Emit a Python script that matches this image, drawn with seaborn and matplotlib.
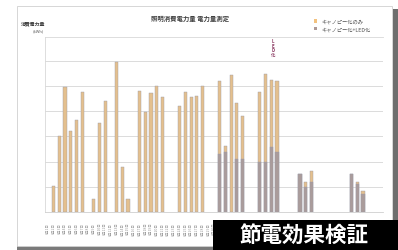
import matplotlib
matplotlib.use("Agg")
import matplotlib.pyplot as plt
import matplotlib.patches as mpatches
import seaborn as sns
import pandas as pd

# ---- data ----
days = ["6月1日", "6月2日", "6月3日", "6月4日", "6月5日", "6月6日", "6月7日", "6月8日",
        "6月9日", "6月10日", "6月11日", "6月12日", "6月13日", "6月14日", "6月15日",
        "6月16日", "6月17日", "6月18日", "6月19日", "6月20日", "6月21日", "6月22日",
        "6月23日", "6月24日", "6月25日", "6月26日", "6月27日", "6月28日", "6月29日",
        "6月30日", "7月1日", "7月2日", "7月3日", "7月4日", "7月5日", "7月6日", "7月7日",
        "7月8日", "7月9日", "7月10日", "7月11日", "7月12日", "7月13日", "7月14日",
        "7月15日", "7月16日", "7月17日", "7月18日", "7月19日", "7月20日", "7月21日",
        "7月22日", "7月23日", "7月24日", "7月25日", "7月26日", "7月27日", "7月28日",
        "7月29日"]
canopy_only = [0, 104, 302, 497, 323, 365, 476, 0, 52, 352, 442, 0, 597, 178, 52, 0,
               479, 398, 472, 501, 457, 0, 0, 422, 476, 456, 460, 499, 0, 0,
               522, 262, 544, 432, 382, 0, 0, 476, 548, 524, 520, 0, 0, 0,
               151, 120, 164, 0, 0, 0, 0, 0, 0, 151, 120, 85, 0, 0, 0]
canopy_led = [0, 0, 0, 0, 0, 0, 0, 0, 0, 0, 0, 0, 0, 0, 0, 0, 0, 0, 0, 0,
              0, 0, 0, 0, 0, 0, 0, 0, 0, 0,
              230, 240, 0, 210, 210, 0, 0, 200, 200, 260, 240, 0, 0, 0,
              151, 100, 120, 0, 0, 0, 0, 0, 0, 151, 110, 70, 0, 0, 0]
series_names = ["キャノピー化のみ", "キャノピー化+LED化"]
title = "照明消費電力量 電力量測定"
ylabel = "消費電力量"
unit = "(kWh)"
note = "L\nE\nD\n化"
banner = "節電効果検証"

rows = []
for d, a, b in zip(days, canopy_only, canopy_led):
    if a > 0:
        rows.append((d, series_names[0], a))
    if b > 0:
        rows.append((d, series_names[1], b))
df = pd.DataFrame(rows, columns=["day", "series", "value"])

sns.set_style("white")
plt.rcParams['font.family'] = ['Noto Sans CJK JP', 'DejaVu Sans']

fig = plt.figure(figsize=(3.98, 2.51), dpi=100)
fig.patch.set_facecolor("white")

# outer frame and shadow (drawn behind the axes)
fig.patches.append(mpatches.Rectangle((393/398, 0), 5/398, 1 - 10/251, transform=fig.transFigure,
                                      facecolor="#6e6e6e", edgecolor="none", zorder=-10))
fig.patches.append(mpatches.Rectangle((17/398, 0), 200/398, 4/251, transform=fig.transFigure,
                                      facecolor="#7a7a7a", edgecolor="none", zorder=-10))
fig.patches.append(mpatches.Rectangle((17/398, 4/251), 375/398, 1 - 11/251, transform=fig.transFigure,
                                      facecolor="white", edgecolor="#d0d0d0", lw=0.6, zorder=-9))

ax = fig.add_axes([45/398, 1 - 213/251, 338/398, (213 - 38)/251])
ax.set_zorder(2)
ax.patch.set_alpha(0)
palette = {series_names[0]: "#F3C27F", series_names[1]: "#AD9A98"}
sns.barplot(data=df, x="day", y="value", hue="series", order=days,
            hue_order=series_names, palette=palette, dodge=False, width=0.55,
            edgecolor="#9c9aa8", linewidth=0.3, ax=ax, legend=False)

ax.set_ylim(0, 695)
ax.set_yticks([0, 100, 200, 300, 400, 500, 600])
ax.set_yticklabels([])
ax.tick_params(axis="y", length=0)
ax.grid(axis="y", color="#d6d6d6", lw=0.6)
ax.set_axisbelow(True)
ax.set_xlabel("")
ax.set_ylabel("")
ax.tick_params(axis="x", length=0, pad=7, labelsize=2.5, labelcolor="#9a9a9a", rotation=90)
for s in ["left", "top"]:
    ax.spines[s].set_color("#d8d8d8")
    ax.spines[s].set_linewidth(0.6)
ax.spines["right"].set_visible(False)
ax.spines["bottom"].set_color("#cfcfcf")
ax.spines["bottom"].set_linewidth(0.6)
ax.set_xlim(-0.5, len(days) - 0.5)

# annotation
ax.text(39.3, 690, note, fontsize=3.2, color="#8b3a62", ha="center", va="top",
        linespacing=0.9, fontweight="bold")

# texts
fig.text(190/398, 1 - 18/251, title, fontsize=4.6, color="#404040", ha="center",
         va="center", fontweight="bold")
fig.text(33/398, 1 - 24/251, ylabel, fontsize=3.5, color="#404040", ha="center",
         va="center", fontweight="bold")
fig.text(44/398, 1 - 31/251, unit, fontsize=3, color="#606060", ha="right", va="center")

handles = [mpatches.Patch(facecolor=palette[n], edgecolor="none") for n in series_names]
fig.legend(handles, series_names, loc="upper left", bbox_to_anchor=(309/398, 1 - 15/251),
           frameon=False, fontsize=3.8, handlelength=0.7, handleheight=0.7,
           handletextpad=0.8, labelspacing=0.5, labelcolor="#505050")

# banner
fig.patches.append(mpatches.Rectangle((213/398, 0), 185/398, 30/251, transform=fig.transFigure,
                                      facecolor="black", edgecolor="none", zorder=10))
fig.text(304/398, 15/251, banner, fontsize=15.5, color="white", ha="center", va="center",
         fontweight="bold", zorder=11)

fig.savefig("out.png", dpi=100)
